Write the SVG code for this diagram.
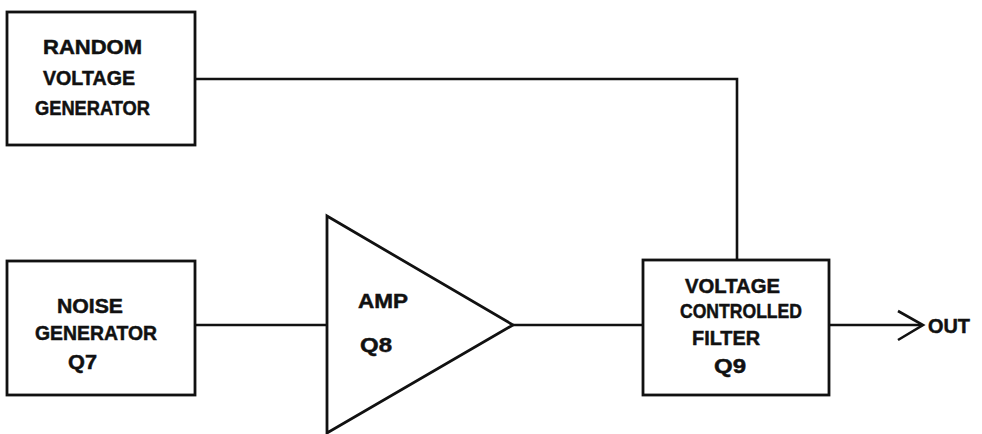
<svg xmlns="http://www.w3.org/2000/svg" width="982" height="434" viewBox="0 0 982 434">
<style>
.box{fill:none;stroke:#111;stroke-width:2.8}
.ln{fill:none;stroke:#111;stroke-width:2.6;stroke-linejoin:miter}
text{font-family:"Liberation Sans",Arial,sans-serif;font-weight:bold;font-size:21px;fill:#111;stroke:#111;stroke-width:0.5}
</style>
<rect width="982" height="434" fill="#fff"/>
<g id="connectors">
<polyline class="ln" points="195,79 737,79 737,260"/>
<line class="ln" x1="195" y1="325" x2="327" y2="325"/>
<line class="ln" x1="513" y1="325" x2="643" y2="325"/>
<line class="ln" x1="829" y1="325" x2="922" y2="325"/>
<polyline class="ln" points="898,311 923,325 898,340" stroke-width="3"/>
</g>
<g id="random-voltage-generator">
<rect class="box" x="7" y="12" width="188" height="133"/>
<text x="43" y="54" textLength="99" lengthAdjust="spacingAndGlyphs">RANDOM</text>
<text x="43" y="85" textLength="92" lengthAdjust="spacingAndGlyphs">VOLTAGE</text>
<text x="35" y="115" textLength="115" lengthAdjust="spacingAndGlyphs">GENERATOR</text>
</g>
<g id="noise-generator">
<rect class="box" x="7" y="261" width="188" height="134"/>
<text x="57" y="313" textLength="66" lengthAdjust="spacingAndGlyphs">NOISE</text>
<text x="35" y="340" textLength="122" lengthAdjust="spacingAndGlyphs">GENERATOR</text>
<text x="68" y="369" textLength="29" lengthAdjust="spacingAndGlyphs">Q7</text>
</g>
<g id="amp">
<polygon class="box" points="327,216 513,325 327,433"/>
<text x="358" y="308" textLength="50" lengthAdjust="spacingAndGlyphs">AMP</text>
<text x="360" y="352" textLength="32" lengthAdjust="spacingAndGlyphs">Q8</text>
</g>
<g id="voltage-controlled-filter">
<rect class="box" x="643" y="260" width="186" height="135"/>
<text x="685" y="293" textLength="95" lengthAdjust="spacingAndGlyphs">VOLTAGE</text>
<text x="680" y="318" textLength="122" lengthAdjust="spacingAndGlyphs">CONTROLLED</text>
<text x="692" y="345" textLength="68" lengthAdjust="spacingAndGlyphs">FILTER</text>
<text x="714" y="373" textLength="32" lengthAdjust="spacingAndGlyphs">Q9</text>
</g>
<g id="out">
<text x="928" y="333" textLength="42" lengthAdjust="spacingAndGlyphs">OUT</text>
</g>
</svg>
